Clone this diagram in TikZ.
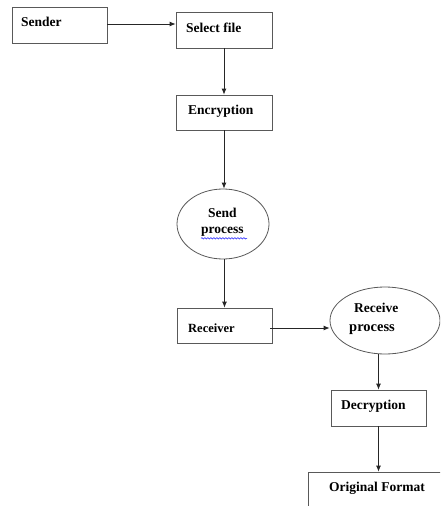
\documentclass[tikz,border=0pt]{standalone}
\usepackage{fontspec}
\setmainfont{Liberation Serif}
\usetikzlibrary{shapes.geometric,arrows.meta,decorations.pathmorphing}
\begin{document}
\begin{tikzpicture}[x=1pt,y=-1pt,
  box/.style={draw=black!65,line width=0.8pt,rectangle,inner sep=0pt},
  oval/.style={draw=black!65,line width=0.8pt,ellipse,inner sep=0pt},
  lbl/.style={font=\fontsize{13.5}{15}\selectfont\bfseries,inner sep=0pt,anchor=west},
  conn/.style={draw=black!85,line width=0.8pt,-{Latex[length=6pt,width=5pt]}}]
\useasboundingbox (0,0) rectangle (440,506);
\clip (0,0) rectangle (440,506);
% boxes
\node[box,minimum width=95pt,minimum height=36pt] (snd) at (59.5,25) {};
\node[box,minimum width=96pt,minimum height=36pt] (sel) at (224,30) {};
\node[box,minimum width=96pt,minimum height=35pt] (enc) at (224,112.5) {};
\node[oval,minimum width=92pt,minimum height=70pt] (sp) at (223,224) {};
\node[box,minimum width=95pt,minimum height=35pt] (rcv) at (224.5,325.5) {};
\node[oval,minimum width=110pt,minimum height=67pt] (rp) at (385,320.5) {};
\node[box,minimum width=95pt,minimum height=36pt] (dec) at (378.5,408) {};
\node[box,minimum width=232pt,minimum height=68pt] (orig) at (424,506) {};
% labels
\node[lbl] (tsnd) at (21,22) {Sender};
\node[lbl] (tsel) at (186,28) {Select file};
\node[lbl] (tenc) at (188,111) {Encryption};
\node[lbl] (tsp1) at (208,213) {Send};
\node[lbl] (tsp2) at (201,232) {process};
\node[lbl,font=\fontsize{12.5}{14}\selectfont\bfseries] (trcv) at (188,328) {Receiver};
\node[lbl] (trp1) at (354,308) {Receive};
\node[lbl,font=\fontsize{14.5}{16}\selectfont\bfseries] (trp2) at (349,330) {process};
\node[lbl] (tdec) at (341,406) {Decryption};
\node[lbl] (torig) at (329,488) {Original Format};
% spell-check underline
\draw[blue!80,line width=0.6pt,decorate,decoration={snake,amplitude=0.7pt,segment length=3pt}]
  (tsp2.south west) ++(0,1.5) -- ++(46,0);
% connectors
\draw[conn] (snd.east |- sel.west) ++(0,-6) coordinate (c1) -- (c1 -| sel.west);
\draw[conn] (sel.south) -- (enc.north);
\draw[conn] (enc.south) -- (enc.south |- sp.north);
\draw[conn] (rcv.north |- sp.south) -- (rcv.north);
\draw[conn] (rcv.east) ++(-2,2.5) coordinate (c2) -- (c2 -| rp.west);
\draw[conn] (dec.north |- rp.south) -- (dec.north);
\draw[conn] (dec.south) -- (dec.south |- orig.north);
\end{tikzpicture}
\end{document}
